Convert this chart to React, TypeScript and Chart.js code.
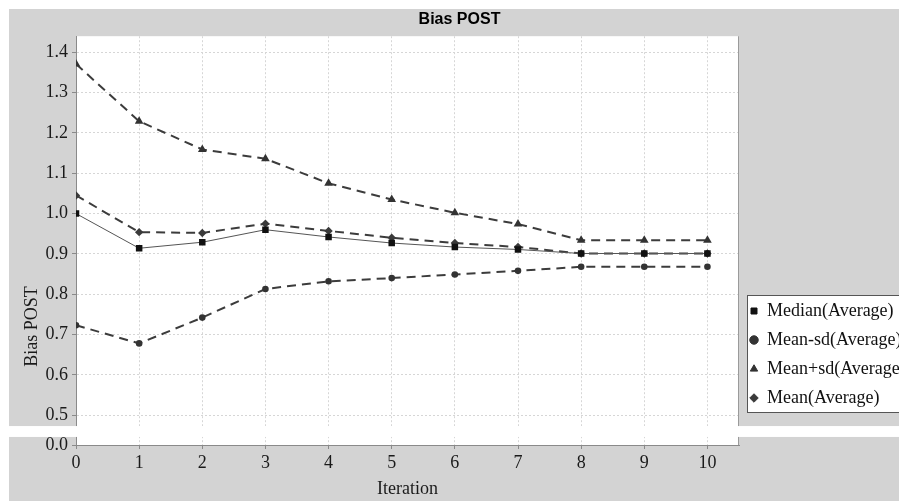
import React, { useEffect, useRef } from 'react';
import { Chart, registerables } from 'chart.js';

Chart.register(...registerables);

// ---------- data ----------
const CHART_TITLE = 'Bias POST';
const X_TITLE = 'Iteration';
const Y_TITLE = 'Bias POST';

const iterations = [0, 1, 2, 3, 4, 5, 6, 7, 8, 9, 10];
const xTicks = [0, 1, 2, 3, 4, 5, 6, 7, 8, 9, 10];
const yTicksUpper = [0.5, 0.6, 0.7, 0.8, 0.9, 1.0, 1.1, 1.2, 1.3, 1.4];
const yTicksLower = [0.0];

const seriesNames = ['Median(Average)', 'Mean-sd(Average)', 'Mean+sd(Average)', 'Mean(Average)'];
const median = [1.0, 0.914, 0.929, 0.96, 0.942, 0.927, 0.917, 0.911, 0.901, 0.901, 0.901];
const meanMinusSd = [0.723, 0.678, 0.742, 0.813, 0.832, 0.84, 0.849, 0.858, 0.868, 0.868, 0.868];
const meanPlusSd = [1.371, 1.229, 1.159, 1.136, 1.075, 1.035, 1.002, 0.974, 0.934, 0.934, 0.934];
const mean = [1.045, 0.954, 0.952, 0.975, 0.957, 0.94, 0.927, 0.917, 0.901, 0.901, 0.901];

// axis ranges (broken value axis: 0.0 … | break | … 0.47–1.44)
const X_MIN = 0;
const X_MAX = 10.5;
const UPPER_MIN = 0.473;
const UPPER_MAX = 1.44;
const LOWER_MIN = 0;
const LOWER_MAX = 0.047;
const BREAK_END = 0.02;

// ---------- styles ----------
const SERIF = '"Liberation Serif", "Times New Roman", serif';
const SANS = '"Liberation Sans", Arial, sans-serif';
const BG = '#d3d3d3';
const GRID = '#d6d6d6';
const AXIS = '#8a8a8a';
const TEXT = '#1a1a1a';

const CANVAS_W = 901;
const CANVAS_H = 492;

const pts = (vals: number[]) => iterations.map((x, i) => ({ x, y: vals[i] }));

const breakPlugin = {
  id: 'brokenAxis',
  beforeDraw(chart: any) {
    const { ctx, chartArea, width, height } = chart;
    ctx.save();
    ctx.fillStyle = BG;
    ctx.fillRect(0, 0, width, height);
    ctx.fillStyle = '#ffffff';
    ctx.fillRect(chartArea.left, chartArea.top, chartArea.right - chartArea.left, chartArea.bottom - chartArea.top);
    const lg = chart.legend;
    if (lg && lg.legendHitBoxes && lg.legendHitBoxes.length) {
      const hb = lg.legendHitBoxes;
      const left = Math.round(hb[0].left - 3);
      const top = Math.round(hb[0].top - 7);
      const last = hb[hb.length - 1];
      const bottom = Math.round(last.top + last.height + 5);
      const right = width - 2;
      ctx.fillStyle = '#ffffff';
      ctx.fillRect(left, top, right - left, bottom - top);
      ctx.strokeStyle = '#555555';
      ctx.lineWidth = 1;
      ctx.strokeRect(left + 0.5, top + 0.5, right - left, bottom - top);
    }
    ctx.restore();
  },
  afterDraw(chart: any) {
    const { ctx, chartArea, width } = chart;
    const up = chart.scales.y;
    const low = chart.scales.yLow;
    ctx.save();
    // plot outline (right side)
    ctx.strokeStyle = '#9a9a9a';
    ctx.lineWidth = 1;
    ctx.beginPath();
    ctx.moveTo(chartArea.right - 0.5, chartArea.top);
    ctx.lineTo(chartArea.right - 0.5, chartArea.bottom);
    ctx.stroke();
    // white break band between the two axis segments
    const gTop = up.bottom;
    const gBot = low.getPixelForValue(BREAK_END);
    ctx.fillStyle = '#ffffff';
    ctx.fillRect(0, gTop, width, gBot - gTop);
    // value-axis title, centred on the full (unbroken) axis range
    ctx.translate(up.left + 23.5, up.getPixelForValue((LOWER_MIN + UPPER_MAX) / 2));
    ctx.rotate(-Math.PI / 2);
    ctx.font = `18px ${SERIF}`;
    ctx.fillStyle = TEXT;
    ctx.textAlign = 'center';
    ctx.textBaseline = 'middle';
    ctx.fillText(Y_TITLE, 0, 0);
    ctx.restore();
  },
};

const gridOpts = {
  color: GRID,
  lineWidth: 1,
  drawTicks: true,
  tickLength: 4,
  tickColor: AXIS,
  tickBorderDash: [],
};
const borderOpts = { display: true, color: AXIS, width: 1, dash: [2, 2] };
const tickFont = { family: SERIF, size: 18 };

export default function App() {
  const ref = useRef<HTMLCanvasElement>(null);

  useEffect(() => {
    if (!ref.current) return;
    const dashed = [9, 6];
    const chart = new Chart(ref.current, {
      type: 'line',
      data: {
        datasets: [
          {
            label: seriesNames[0],
            data: pts(median),
            xAxisID: 'x',
            yAxisID: 'y',
            borderColor: '#555555',
            borderWidth: 1,
            backgroundColor: '#111111',
            pointBackgroundColor: '#111111',
            pointBorderColor: '#111111',
            pointBorderWidth: 0,
            pointStyle: 'rect',
            pointRadius: 4.6,
            fill: false,
            tension: 0,
          },
          {
            label: seriesNames[1],
            data: pts(meanMinusSd),
            xAxisID: 'x',
            yAxisID: 'y',
            borderColor: '#3c3c3c',
            borderWidth: 2,
            borderDash: dashed,
            backgroundColor: '#333333',
            pointBackgroundColor: '#333333',
            pointBorderColor: '#333333',
            pointBorderWidth: 0,
            pointStyle: 'circle',
            pointRadius: 3.3,
            fill: false,
            tension: 0,
          },
          {
            label: seriesNames[2],
            data: pts(meanPlusSd),
            xAxisID: 'x',
            yAxisID: 'y',
            borderColor: '#3c3c3c',
            borderWidth: 2,
            borderDash: dashed,
            backgroundColor: '#333333',
            pointBackgroundColor: '#333333',
            pointBorderColor: '#333333',
            pointBorderWidth: 0,
            pointStyle: 'triangle',
            pointRadius: 5,
            fill: false,
            tension: 0,
          },
          {
            label: seriesNames[3],
            data: pts(mean),
            xAxisID: 'x',
            yAxisID: 'y',
            borderColor: '#3c3c3c',
            borderWidth: 2,
            borderDash: dashed,
            backgroundColor: '#3a3a3a',
            pointBackgroundColor: '#3a3a3a',
            pointBorderColor: '#3a3a3a',
            pointBorderWidth: 0,
            pointStyle: 'rectRot',
            pointRadius: 4.2,
            fill: false,
            tension: 0,
          },
        ],
      },
      options: {
        responsive: false,
        maintainAspectRatio: false,
        animation: false,
        devicePixelRatio: 1,
        events: [],
        layout: { padding: 0 },
        scales: {
          x: {
            type: 'linear',
            position: 'bottom',
            min: X_MIN,
            max: X_MAX,
            afterBuildTicks: (s: any) => {
              s.ticks = xTicks.map((v) => ({ value: v }));
            },
            afterFit: (s: any) => {
              s.height = 56;
            },
            ticks: {
              font: tickFont,
              color: TEXT,
              padding: 3,
              maxRotation: 0,
              autoSkip: false,
              callback: (v: any) => String(v),
            },
            grid: gridOpts,
            border: borderOpts,
            title: {
              display: true,
              text: X_TITLE,
              font: { family: SERIF, size: 18 },
              color: TEXT,
              padding: { top: 2, bottom: 1 },
            },
          },
          yLow: {
            type: 'linear',
            position: 'left',
            stack: 'value',
            stackWeight: LOWER_MAX - LOWER_MIN,
            weight: 0,
            min: LOWER_MIN,
            max: LOWER_MAX,
            afterBuildTicks: (s: any) => {
              s.ticks = yTicksLower.map((v) => ({ value: v }));
            },
            afterFit: (s: any) => {
              s.width = 67;
            },
            ticks: {
              font: tickFont,
              color: TEXT,
              padding: 4,
              callback: (v: any) => Number(v).toFixed(1),
            },
            grid: gridOpts,
            border: borderOpts,
          },
          y: {
            type: 'linear',
            position: 'left',
            stack: 'value',
            stackWeight: UPPER_MAX - UPPER_MIN,
            weight: 1,
            min: UPPER_MIN,
            max: UPPER_MAX,
            afterBuildTicks: (s: any) => {
              s.ticks = yTicksUpper.map((v) => ({ value: v }));
            },
            afterFit: (s: any) => {
              s.width = 67;
            },
            ticks: {
              font: tickFont,
              color: TEXT,
              padding: 4,
              callback: (v: any) => Number(v).toFixed(1),
            },
            grid: gridOpts,
            border: borderOpts,
          },
        },
        plugins: {
          tooltip: { enabled: false },
          title: {
            display: true,
            text: CHART_TITLE,
            color: '#000000',
            font: { family: SANS, size: 16, weight: 'bold' },
            padding: { top: 1, bottom: 7 },
          },
          legend: {
            display: true,
            position: 'right',
            align: 'start',
            fullSize: false,
            maxWidth: 171,
            title: {
              display: true,
              text: '',
              font: { size: 10 },
              padding: { top: 242.8, bottom: 0 },
            },
            labels: {
              usePointStyle: true,
              boxWidth: 8,
              boxHeight: 6,
              padding: 11,
              color: '#111111',
              font: { family: SERIF, size: 18 },
              generateLabels: (c: any) => {
                const base = (Chart.defaults.plugins.legend.labels as any).generateLabels(c);
                return base.map((l: any) => {
                  const ds: any = c.data.datasets[l.datasetIndex];
                  return {
                    ...l,
                    lineDash: [],
                    lineWidth: 1,
                    fillStyle: ds.pointBackgroundColor,
                    strokeStyle: ds.pointBackgroundColor,
                  };
                });
              },
            },
          },
        },
      },
      plugins: [breakPlugin],
    } as any);
    return () => chart.destroy();
  }, []);

  return (
    <div
      style={{
        position: 'fixed',
        left: 9,
        top: 9,
        width: 890,
        height: CANVAS_H,
        overflow: 'hidden',
      }}
    >
      <canvas
        ref={ref}
        width={CANVAS_W}
        height={CANVAS_H}
        style={{ display: 'block', width: CANVAS_W, height: CANVAS_H }}
      />
    </div>
  );
}
